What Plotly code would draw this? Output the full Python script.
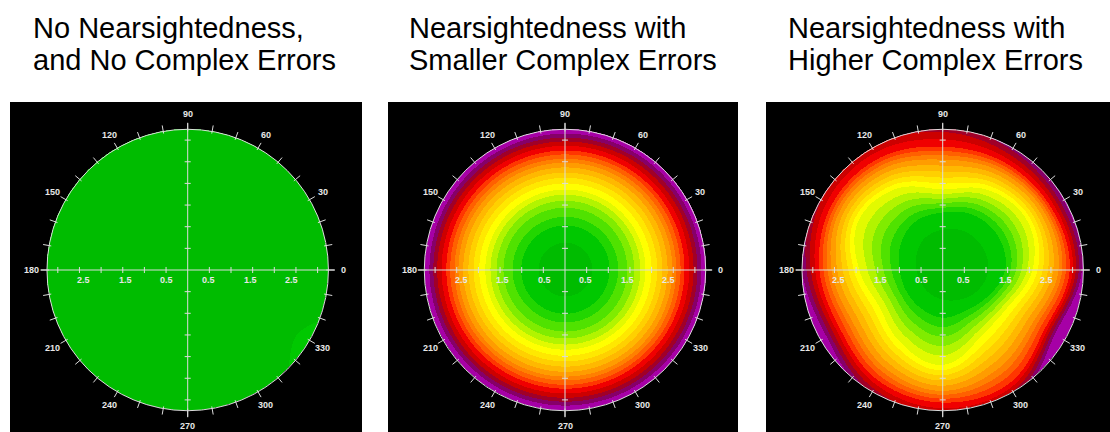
import numpy as np
import plotly.graph_objects as go

# ---------------- data ----------------
TITLE_LINES = [
    ["No Nearsightedness,", "and No Complex Errors"],
    ["Nearsightedness with", "Smaller Complex Errors"],
    ["Nearsightedness with", "Higher Complex Errors"],
]

# discrete contour colours, level 0 (lowest) ... level 19 (highest)
LEVEL_COLORS = [
    "#00bc00", "#00c800", "#22d600", "#50e200", "#80ec00",
    "#b2f400", "#e2fa00", "#ffff00", "#ffe800", "#ffd000",
    "#ffb800", "#ff9c00", "#ff8000", "#ff6000", "#ff3600",
    "#f00000", "#cc0000", "#a00028", "#860068", "#a600a6",
]

ANGLE_LABELS = [0, 30, 60, 90, 120, 150, 180, 210, 240, 270, 300, 330]
RADIAL_LABELS = ["2.5", "1.5", "0.5", "0.5", "1.5", "2.5"]
RADIAL_LABEL_POS = [-2.5, -1.5, -0.5, 0.5, 1.5, 2.5]
PUPIL_RADIUS = 3.25  # mm

SAMPLE_ANGLES = [0, 30, 60, 90, 120, 150, 180, 210, 240, 270, 300, 330]

# radius (mm) at which each contour level starts, per sample angle
P1_EDGES = {
    1: [4.5, 4.5, 4.5, 4.5, 4.5, 4.5, 4.5, 4.5, 4.5, 4.5, 3.9, 2.95],
}
P2_LEVEL_STARTS = [0.62, 1.02, 1.22, 1.43, 1.59, 1.73, 1.85, 1.99, 2.12,
                   2.24, 2.36, 2.47, 2.56, 2.66, 2.75, 2.86, 2.96, 3.05, 3.14]
P3_EDGES = {
    1: [1.06, 1.06, 1.02, 0.92, 0.83, 0.69, 0.60, 0.58, 0.62, 0.69, 0.80, 0.95],
    2: [1.45, 1.50, 1.45, 1.32, 1.27, 1.12, 0.99, 0.97, 1.02, 1.11, 1.09, 1.22],
    7: [2.08, 2.26, 2.12, 1.85, 2.15, 2.24, 1.92, 1.69, 1.94, 2.20, 1.78, 1.74],
    12: [2.68, 2.70, 2.63, 2.54, 2.70, 2.73, 2.56, 2.40, 2.63, 2.80, 2.62, 2.42],
    15: [2.94, 2.89, 2.86, 2.84, 2.96, 2.96, 2.84, 2.73, 2.96, 3.07, 3.05, 2.73],
    18: [3.15, 3.14, 3.19, 3.35, 3.42, 3.35, 3.14, 3.00, 3.28, 3.46, 3.35, 2.93],
}

# ---------------- layout geometry (pixels) ----------------
W, H = 1110, 432
PX_PER_MM = 43.3
PANEL_BOX = [(10, 362), (388, 738), (766, 1110)]
PANEL_CX = [187.7, 565.0, 942.7]
BOX_TOP, BOX_BOTTOM, CY = 102, 432, 270
TITLE_X = [31, 407, 786]
TITLE_Y = [28, 60]

N_LEV = len(LEVEL_COLORS)


def periodic_cr(theta, values):
    v = np.asarray(values, dtype=float)
    n = len(v)
    t = (theta % 360.0) / (360.0 / n)
    i = np.floor(t).astype(int)
    f = t - i
    p0, p1, p2, p3 = v[(i - 1) % n], v[i % n], v[(i + 1) % n], v[(i + 2) % n]
    return 0.5 * (2 * p1 + (-p0 + p2) * f + (2 * p0 - 5 * p1 + 4 * p2 - p3) * f ** 2
                  + (-p0 + 3 * p1 - 3 * p2 + p3) * f ** 3)


def level_field(r, theta, edges):
    keys = sorted(edges)
    kr = [np.zeros_like(r)] + [periodic_cr(theta, edges[k]) for k in keys]
    kv = [0.0] + [float(k) for k in keys]
    lev = np.full_like(r, np.nan)
    for j in range(len(kr) - 1):
        seg = (r >= kr[j]) & (r < kr[j + 1]) & np.isnan(lev)
        lev[seg] = kv[j] + (r[seg] - kr[j][seg]) / (kr[j + 1][seg] - kr[j][seg]) * (kv[j + 1] - kv[j])
    rest = np.isnan(lev)
    if len(kr) > 2:
        slope = (kv[-1] - kv[-2]) / (kr[-1] - kr[-2])
        lev[rest] = kv[-1] + (r[rest] - kr[-1][rest]) * slope[rest]
    else:
        lev[rest] = kv[-1]
    return lev


step = 1.0 / PX_PER_MM
g = np.arange(-3.3, 3.3 + step / 2, step)
X, Y = np.meshgrid(g, g)
Rg = np.hypot(X, Y)
TH = np.degrees(np.arctan2(Y, X)) % 360

p2_edges = {i + 1: [v] * len(SAMPLE_ANGLES) for i, v in enumerate(P2_LEVEL_STARTS)}
fields = [level_field(Rg, TH, P1_EDGES), level_field(Rg, TH, p2_edges), level_field(Rg, TH, P3_EDGES)]

colorscale = []
for k, c in enumerate(LEVEL_COLORS):
    colorscale.append([k / N_LEV, c])
    colorscale.append([(k + 1) / N_LEV, c])

fig = go.Figure()
shapes, annotations = [], []
LINE_COL = "#dcdcdc"
LAB_COL = "#e8e8e8"
LAB_FONT = dict(family="Liberation Sans", size=9, color=LAB_COL, weight="bold")

for p in range(3):
    z = np.clip(fields[p], 0, N_LEV - 0.01)
    z[Rg > PUPIL_RADIUS] = np.nan
    xa = "x" if p == 0 else f"x{p + 1}"
    ya = "y" if p == 0 else f"y{p + 1}"
    fig.add_trace(go.Heatmap(
        x=g, y=g, z=z, xaxis=xa, yaxis=ya, colorscale=colorscale,
        zmin=0, zmax=N_LEV, showscale=False, hoverinfo="skip", zsmooth=False,
    ))

    x0, x1 = PANEL_BOX[p]
    cx = PANEL_CX[p]
    key = "" if p == 0 else str(p + 1)
    fig.layout["xaxis" + key] = dict(
        domain=[x0 / W, x1 / W], range=[(x0 - cx) / PX_PER_MM, (x1 - cx) / PX_PER_MM],
        visible=False, anchor=ya, fixedrange=True)
    fig.layout["yaxis" + key] = dict(
        domain=[0, 1 - BOX_TOP / H], range=[-(BOX_BOTTOM - CY) / PX_PER_MM, (CY - BOX_TOP) / PX_PER_MM],
        visible=False, anchor=xa, fixedrange=True)

    R = PUPIL_RADIUS
    ln = dict(color=LINE_COL, width=1)
    shapes.append(dict(type="circle", xref=xa, yref=ya, x0=-R, x1=R, y0=-R, y1=R, line=ln))
    ext = R + 0.15
    shapes.append(dict(type="line", xref=xa, yref=ya, x0=-ext, x1=ext, y0=0, y1=0, line=ln))
    shapes.append(dict(type="line", xref=xa, yref=ya, x0=0, x1=0, y0=-ext, y1=ext, line=ln))
    for t in np.arange(0.5, 3.01, 0.5):
        for s in (-1, 1):
            shapes.append(dict(type="line", xref=xa, yref=ya, x0=s * t, x1=s * t, y0=-0.07, y1=0.07, line=ln))
            shapes.append(dict(type="line", xref=xa, yref=ya, y0=s * t, y1=s * t, x0=-0.07, x1=0.07, line=ln))
    for a in range(0, 360, 10):
        ca, sa = np.cos(np.radians(a)), np.sin(np.radians(a))
        shapes.append(dict(type="line", xref=xa, yref=ya, x0=(R - 0.05) * ca, x1=(R + 0.14) * ca,
                           y0=(R - 0.05) * sa, y1=(R + 0.14) * sa, line=ln))
    for a in ANGLE_LABELS:
        ca, sa = np.cos(np.radians(a)), np.sin(np.radians(a))
        annotations.append(dict(x=3.6 * ca, y=3.6 * sa, xref=xa, yref=ya, text=str(a), showarrow=False,
                                font=LAB_FONT, xanchor="center", yanchor="middle"))
    for txt, pos in zip(RADIAL_LABELS, RADIAL_LABEL_POS):
        annotations.append(dict(x=pos * 0.96, y=-0.23, xref=xa, yref=ya, text=txt, showarrow=False,
                                font=LAB_FONT, xanchor="center", yanchor="middle"))
    for li, line in enumerate(TITLE_LINES[p]):
        annotations.append(dict(x=TITLE_X[p] / W, y=1 - TITLE_Y[li] / H, xref="paper", yref="paper",
                                text=line, showarrow=False, xanchor="left", yanchor="middle",
                                font=dict(family="Liberation Sans, Arial", size=29, color="#000000")))

fig.update_layout(
    width=W, height=H, margin=dict(l=0, r=0, t=0, b=0),
    paper_bgcolor="#ffffff", plot_bgcolor="#000000",
    shapes=shapes, annotations=annotations, showlegend=False,
)

fig.write_html("out.html", config={"displayModeBar": False},
               post_script="document.body.style.margin='0';")
